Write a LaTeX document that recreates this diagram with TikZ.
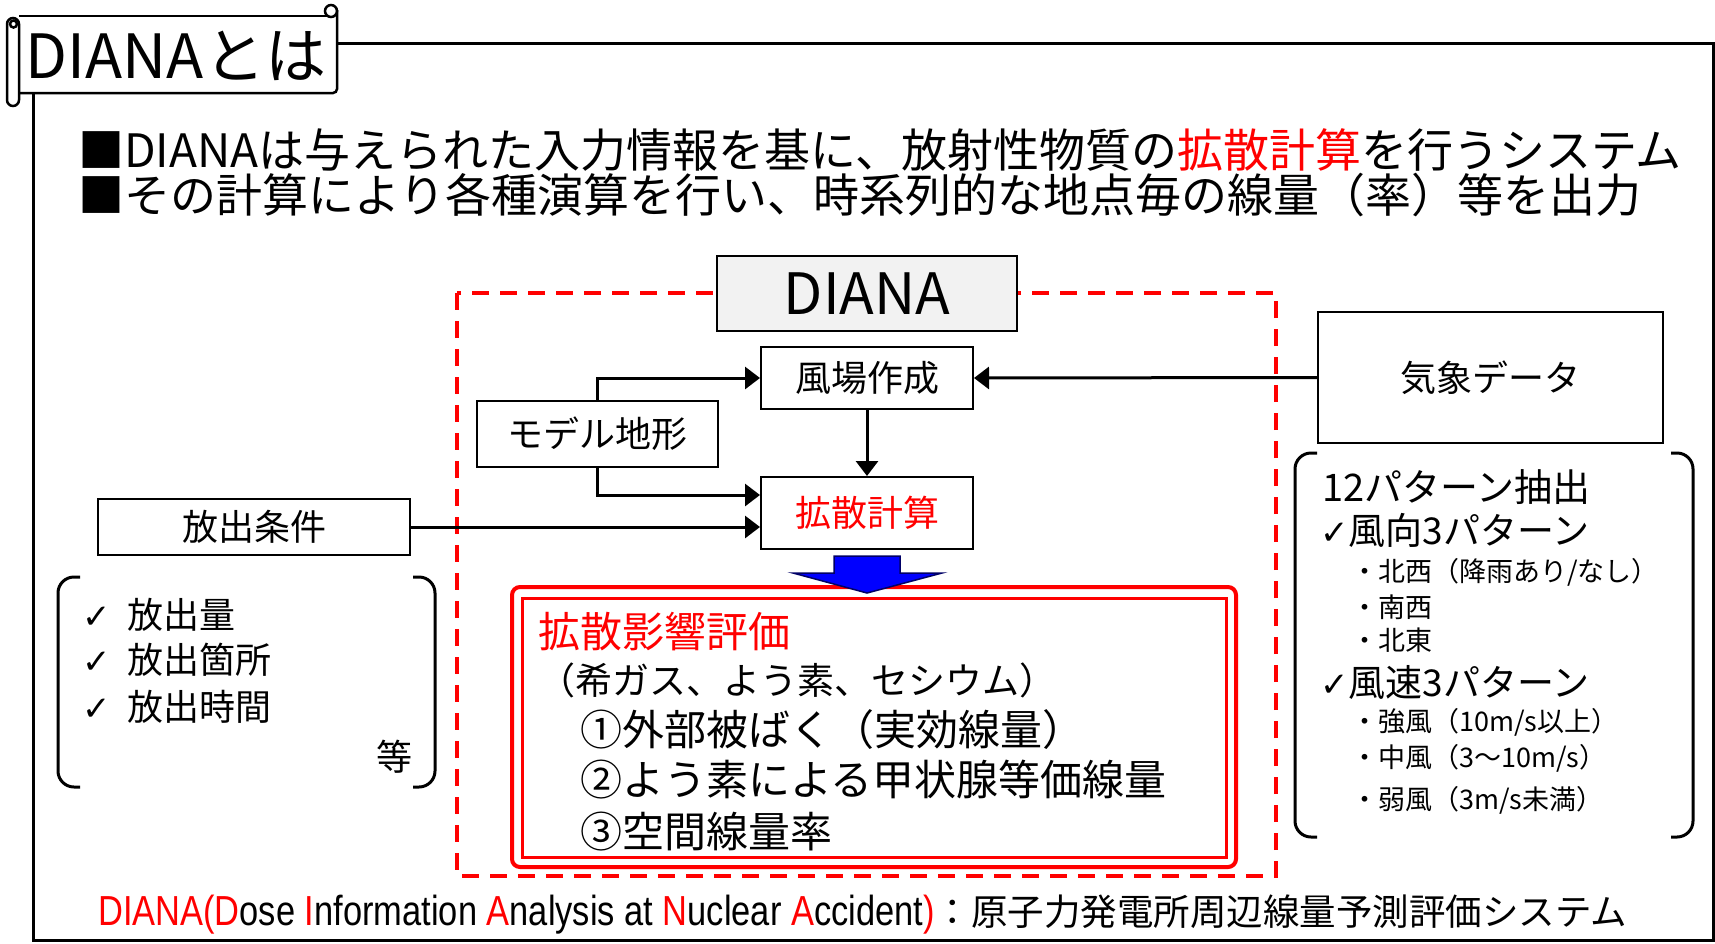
\documentclass[tikz,border=0pt]{standalone}
\usepackage{fontspec}
\setmainfont{Noto Sans CJK JP}
\newfontfamily\symf{DejaVu Sans}
\newfontfamily\latf[FakeStretch=0.82]{Liberation Sans}
\usetikzlibrary{arrows.meta,calc}
\newcommand{\fsz}[1]{\fontsize{#1}{#1}\selectfont}

\tikzset{
    box/.style={draw,line width=2pt,inner sep=0pt,font=\fsz{36}},
    conn/.style={line width=3pt,-{Triangle[length=15pt,width=22pt]}},
    txt/.style={inner sep=0pt,anchor=west},
    bracket/.style={line width=3pt,rounded corners=16pt},
    reddash/.style={red,line width=4pt,dash pattern=on 17pt off 11pt},
    scroll/.style={line width=2.5pt}
}

\begin{document}
\begin{tikzpicture}[x=1pt,y=-1pt]
        \useasboundingbox (0,0) rectangle (1715,943);

        \draw[scroll] (19,16) -- (327,16);
        \draw[scroll,rounded corners=4pt] (337,10) -- (337,93) -- (19,93);
        \draw[scroll] (331,11) circle[radius=6pt];
        \draw[scroll,fill=white,rounded corners=6pt] (7,18) rectangle (19,106);
        \draw[scroll] (13.5,24) circle[radius=3.5pt];
        \node[inner sep=0pt,font=\fsz{61}] (title) at (176,56) {DIANAとは};
        \draw[line width=3pt] (337,43) -- (1713,43) -- (1713,940) -- (33,940) -- (33,93);

        \node[txt,font=\fsz{46}] (point1) at (78,150) {■DIANAは与えられた入力情報を基に、放射性物質の\textcolor{red}{拡散計算}を行うシステム};
        \node[txt,font=\fsz{46}] (point2) at (78,195) {■その計算により各種演算を行い、時系列的な地点毎の線量（率）等を出力};

        \draw[reddash] (457,293) rectangle (1276,876);
        \node[box,fill=gray!10,minimum width=300pt,minimum height=75pt,font=\fsz{57}] (diana) at (867,293.5) {DIANA};
        \node[box,minimum width=212pt,minimum height=62pt] (fuba) at (867,378) {風場作成};
        \node[box,minimum width=241pt,minimum height=66pt] (model) at (597.5,434) {モデル地形};
        \node[box,minimum width=212pt,minimum height=72pt,text=red] (kakusan) at (867,513) {拡散計算};
        \node[box,minimum width=312pt,minimum height=56pt] (hoshutsu) at (254,527) {放出条件};
        \node[box,minimum width=345pt,minimum height=131pt] (kisho) at (1490.5,377.5) {気象データ};

        \draw[conn] (model.north) |- (fuba.west);
        \draw[conn] (model.south) |- ([yshift=18pt]kakusan.west);
        \draw[conn] (hoshutsu.east) -- (hoshutsu.east -| kakusan.west);
        \draw[conn] (fuba.south) -- (kakusan.north);
        \draw[conn] (kisho.west) -- (fuba.east);

        \node[draw=red,line width=3pt,minimum width=704pt,minimum height=259pt] (hyoka) at (874,727.5) {};
        \draw[red,line width=4pt,rounded corners=8pt] (512,587) rectangle (1236,867);
        \node[txt,font=\fsz{42},text=red] (effect) at (538,632) {拡散影響評価};
        \node[txt,font=\fsz{37}] (nuclide) at (538,680) {（希ガス、よう素、セシウム）};
        \node[txt,font=\fsz{42}] (item1) at (580,730) {①外部被ばく（実効線量）};
        \node[txt,font=\fsz{42}] (item2) at (580,780) {②よう素による甲状腺等価線量};
        \node[txt,font=\fsz{42}] (item3) at (580,832) {③空間線量率};
        \draw[fill=blue,draw=blue!40!black,line width=1.5pt] (834,556) -- (900,556) -- (900,573) -- (942,573) -- (867,593) -- (793,573) -- (834,573) -- cycle;

        \draw[bracket] (80,577) -- (58,577) -- (58,787) -- (80,787);
        \draw[bracket] (413,577) -- (435,577) -- (435,787) -- (413,787);
        \node[txt,font=\fsz{36}] (amount) at (82,615) {{\symf\fsz{34}✓}\hspace{17pt}放出量};
        \node[txt,font=\fsz{36}] (place) at (82,660) {{\symf\fsz{34}✓}\hspace{17pt}放出箇所};
        \node[txt,font=\fsz{36}] (time) at (82,707) {{\symf\fsz{34}✓}\hspace{17pt}放出時間};
        \node[txt,font=\fsz{36}] (etc) at (376,757) {等};

        \draw[bracket] (1317,453) -- (1295,453) -- (1295,837) -- (1317,837);
        \draw[bracket] (1671,453) -- (1693,453) -- (1693,837) -- (1671,837);
        \node[txt,font=\fsz{38}] (pattern) at (1322,487) {12パターン抽出};
        \node[txt,font=\fsz{37}] (winddir) at (1320,530) {{\symf\fsz{34}✓}風向3パターン};
        \node[txt,font=\fsz{27}] (nw) at (1351,572) {・北西（降雨あり/なし）};
        \node[txt,font=\fsz{27}] (sw) at (1351,607) {・南西};
        \node[txt,font=\fsz{27}] (ne) at (1351,640) {・北東};
        \node[txt,font=\fsz{37}] (windspd) at (1320,682) {{\symf\fsz{34}✓}風速3パターン};
        \node[txt,font=\fsz{27}] (strong) at (1351,722) {・強風（10m/s以上）};
        \node[txt,font=\fsz{27}] (middle) at (1351,758) {・中風（3～10m/s）};
        \node[txt,font=\fsz{27}] (weak) at (1351,800) {・弱風（3m/s未満）};

        \node[anchor=base west,inner sep=0pt] (fullname) at (98,925) {\latf\fsz{42}\textcolor{red}{DIANA(D}ose \textcolor{red}{I}nformation \textcolor{red}{A}nalysis at \textcolor{red}{N}uclear \textcolor{red}{A}ccident\textcolor{red}{)}\normalfont\fsz{36.5}：原子力発電所周辺線量予測評価システム};
    \end{tikzpicture}
\end{document}
